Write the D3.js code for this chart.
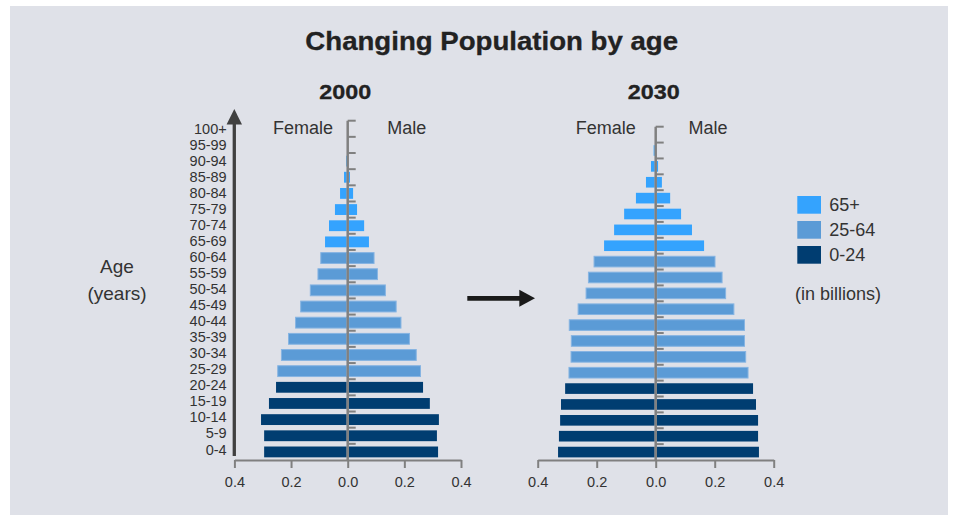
<!DOCTYPE html>
<html><head><meta charset="utf-8">
<script src="https://cdn.jsdelivr.net/npm/d3@7"></script>
<style>
html,body{margin:0;padding:0;background:#fff;}
svg{display:block;font-family:"Liberation Sans",Arial,Helvetica,sans-serif;}
</style></head>
<body>
<svg id="chart" width="958" height="515"></svg>
<script>
const ageGroups = ["0-4","5-9","10-14","15-19","20-24","25-29","30-34","35-39","40-44","45-49","50-54","55-59","60-64","65-69","70-74","75-79","80-84","85-89","90-94","95-99","100+"];
const ageBracket = ["0-24","0-24","0-24","0-24","0-24","25-64","25-64","25-64","25-64","25-64","25-64","25-64","25-64","65+","65+","65+","65+","65+","65+","65+","65+"];
const female2000 = [0.295,0.295,0.306,0.278,0.253,0.247,0.234,0.209,0.184,0.166,0.132,0.105,0.095,0.080,0.066,0.045,0.027,0.013,0.006,0.002,0];
const male2000   = [0.319,0.315,0.322,0.290,0.266,0.257,0.242,0.218,0.188,0.171,0.133,0.105,0.093,0.075,0.058,0.033,0.019,0.008,0.002,0.001,0];
const female2030 = [0.331,0.328,0.324,0.321,0.307,0.294,0.287,0.286,0.293,0.263,0.236,0.228,0.209,0.175,0.141,0.107,0.067,0.033,0.016,0.007,0];
const male2030   = [0.350,0.347,0.347,0.340,0.330,0.313,0.305,0.301,0.301,0.265,0.237,0.225,0.201,0.164,0.123,0.086,0.049,0.021,0.008,0.003,0];
const legendLabels = ["65+","25-64","0-24"];
const xTicks = [0.4,0.2,0.0];
const years = ["2000","2030"];

const colors = {"65+":"#34a3fe","25-64":"#5b9bd6","0-24":"#003d71"};
const gray = "#808080";
const textCol = "#333";

const svg = d3.select("#chart");
svg.append("rect").attr("x",10).attr("y",6).attr("width",938).attr("height",509).attr("fill","#dfe1e8");

// bold text stretched horizontally to a target width
function wideText(cx, baseline, size, width, str) {
  const g = svg.append("g");
  const t = g.append("text").attr("x",0).attr("y",0).attr("text-anchor","middle")
    .attr("font-size",size).attr("font-weight","bold").attr("fill","#222")
    .attr("stroke","#222").attr("stroke-width",0.3).text(str);
  const w = t.node().getComputedTextLength();
  const s = w > 0 ? width / w : 1;
  g.attr("transform",`translate(${cx},${baseline}) scale(${s},1)`);
}
wideText(491.7, 49.8, 25, 373, "Changing Population by age");

const pyramids = [
  {year:years[0], female:female2000, male:male2000, cx:347.7, half:113.3, top:120.7, bottom:460, yearX:345.2, femX:303, maleX:406.7},
  {year:years[1], female:female2030, male:male2030, cx:655.7, half:118, top:126.7, bottom:460, yearX:653.8, femX:605.8, maleX:708}
];

pyramids.forEach(p => {
  const g = svg.append("g");
  const xF = d3.scaleLinear().domain([0.4,0]).range([p.cx - p.half, p.cx]);
  const xM = d3.scaleLinear().domain([0,0.4]).range([p.cx, p.cx + p.half]);
  const y = d3.scaleBand().domain(ageGroups).range([p.bottom, p.top]).paddingInner(0.33).paddingOuter(0.165);
  const data = ageGroups.map((a,i)=>({age:a, br:ageBracket[i], f:p.female[i], m:p.male[i]}));

  wideText(p.yearX, 98.5, 20, 52, p.year);
  g.append("text").attr("x",p.femX).attr("y",134).attr("text-anchor","middle")
    .attr("font-size",18).attr("fill",textCol).text("Female");
  g.append("text").attr("x",p.maleX).attr("y",134).attr("text-anchor","middle")
    .attr("font-size",18).attr("fill",textCol).text("Male");

  // bars
  g.selectAll("rect.f").data(data.filter(d=>d.f>0)).join("rect")
    .attr("x",d=>xF(d.f)).attr("width",d=>xF(0)-xF(d.f) - 1)
    .attr("y",d=>y(d.age)).attr("height",y.bandwidth())
    .attr("fill",d=>colors[d.br])
    .attr("stroke",d=>d.br==="25-64" ? "#86b4e2" : "none").attr("stroke-width",1);
  g.selectAll("rect.m").data(data.filter(d=>d.m>0)).join("rect")
    .attr("x",d=>xM(0)+1).attr("width",d=>Math.max(0,xM(d.m)-xM(0)-1))
    .attr("y",d=>y(d.age)).attr("height",y.bandwidth())
    .attr("fill",d=>colors[d.br])
    .attr("stroke",d=>d.br==="25-64" ? "#86b4e2" : "none").attr("stroke-width",1);

  // center axis with ticks at row boundaries
  const step = y.step();
  g.append("line").attr("x1",p.cx).attr("x2",p.cx).attr("y1",p.top).attr("y2",p.bottom)
    .attr("stroke",gray).attr("stroke-width",2.5);
  const bounds = d3.range(1, ageGroups.length + 1).map(i => p.bottom - i*step);
  g.selectAll("line.tk").data(bounds).join("line")
    .attr("x1",p.cx).attr("x2",p.cx+8).attr("y1",d=>d).attr("y2",d=>d)
    .attr("stroke",gray).attr("stroke-width",2);

  // x axes
  const axF = d3.axisBottom(xF).tickValues(xTicks).tickSize(8).tickSizeOuter(0).tickPadding(9).tickFormat(d3.format(".1f"));
  const axM = d3.axisBottom(xM).tickValues(xTicks.filter(v=>v>0)).tickSize(8).tickSizeOuter(0).tickPadding(9).tickFormat(d3.format(".1f"));
  [axF, axM].forEach(ax => {
    const a = g.append("g").attr("transform",`translate(0,${p.bottom})`).call(ax);
    a.select(".domain").attr("stroke",gray).attr("stroke-width",2);
    a.selectAll(".tick line").attr("stroke",gray).attr("stroke-width",2);
    a.selectAll(".tick text").attr("font-size",14.5).attr("fill",textCol).attr("font-family","Liberation Sans, Arial, sans-serif");
  });
});

// age labels
const yLab = d3.scalePoint().domain(ageGroups).range([449.3, 128.3]);
svg.append("g").selectAll("text").data(ageGroups).join("text")
  .attr("x",226.7).attr("y",d=>yLab(d)).attr("dy","0.36em").attr("text-anchor","end")
  .attr("font-size",14.5).attr("fill",textCol).text(d=>d);

// age arrow
svg.append("line").attr("x1",234.3).attr("x2",234.3).attr("y1",456).attr("y2",120)
  .attr("stroke","#404040").attr("stroke-width",3.3);
svg.append("path").attr("d","M234.3,109 L242,124.5 L226.6,124.5 Z").attr("fill","#404040");

svg.append("text").attr("x",117).attr("y",273).attr("text-anchor","middle").attr("font-size",19).attr("fill",textCol).text("Age");
svg.append("text").attr("x",117).attr("y",299.5).attr("text-anchor","middle").attr("font-size",19).attr("fill",textCol).text("(years)");

// transition arrow
svg.append("line").attr("x1",467.3).attr("x2",521).attr("y1",298.3).attr("y2",298.3).attr("stroke","#1a1a1a").attr("stroke-width",4.7);
svg.append("path").attr("d","M519.3,289.8 L535,298.3 L519.3,306.8 Z").attr("fill","#1a1a1a");

// legend
const lg = svg.append("g");
legendLabels.forEach((l,i) => {
  lg.append("rect").attr("x",797.3).attr("y",196 + i*25).attr("width",23.7).attr("height",17.7).attr("fill",colors[l]);
  lg.append("text").attr("x",829.3).attr("y",196 + i*25 + 8.8).attr("dy","0.36em").attr("font-size",18).attr("fill",textCol).text(l);
});
lg.append("text").attr("x",795).attr("y",293.3).attr("dy","0.36em").attr("font-size",18).attr("fill",textCol).text("(in billions)");
</script>
</body></html>
